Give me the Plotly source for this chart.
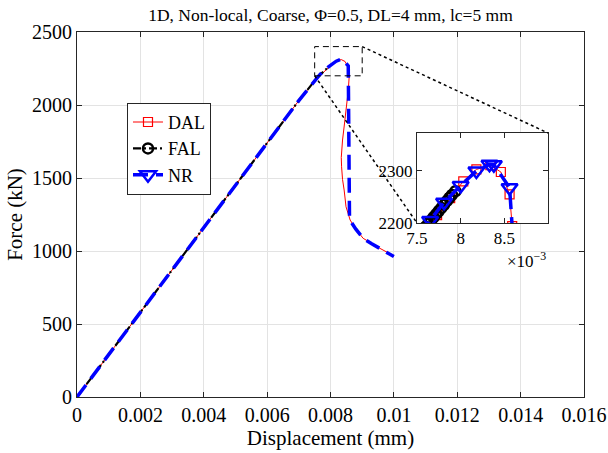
import plotly.graph_objects as go

# ---------------- data ----------------
dal_x = [0, 0.00700, 0.00758, 0.00773, 0.00788, 0.00803, 0.00818, 0.00834, 0.00846, 0.00856,
         0.00859, 0.00856, 0.00851, 0.00844, 0.00838, 0.00834, 0.00835, 0.00838, 0.00843,
         0.00849, 0.00862, 0.00880, 0.00903, 0.00930, 0.00956, 0.00980, 0.01000]
dal_y = [0, 2030, 2185, 2215, 2248, 2280, 2303, 2311, 2298, 2255,
         2194, 2100, 1990, 1870, 1760, 1640, 1577, 1490, 1418,
         1303, 1212, 1150, 1087, 1050, 1018, 990, 962]

fal_x = [0, 0.00700, 0.00760, 0.00763, 0.00766, 0.00769, 0.00772, 0.00775, 0.00778, 0.00781,
         0.00784, 0.00787, 0.00790, 0.00794]
fal_y = [0, 2030, 2193, 2199, 2205, 2211, 2217, 2223, 2229, 2235,
         2242, 2248, 2254, 2261]

nr_x = [0, 0.00700, 0.00765, 0.00781, 0.00800, 0.00818, 0.00833, 0.00838, 0.00856, 0.00860,
        0.00880, 0.00903, 0.00930, 0.00956, 0.00980, 0.01000]
nr_y = [0, 2030, 2205, 2240, 2272, 2300, 2313, 2312, 2268, 1215,
        1150, 1087, 1050, 1018, 990, 962]

x_ticks = [0, 0.002, 0.004, 0.006, 0.008, 0.010, 0.012, 0.014, 0.016]
x_ticklabels = ["0", "0.002", "0.004", "0.006", "0.008", "0.01", "0.012", "0.014", "0.016"]
y_ticks = [0, 500, 1000, 1500, 2000, 2500]
y_ticklabels = ["0", "500", "1000", "1500", "2000", "2500"]

ins_x_ticks = [0.0075, 0.0080, 0.0085]
ins_x_ticklabels = ["7.5", "8", "8.5"]
ins_y_ticks = [2200, 2300]
ins_y_ticklabels = ["2200", "2300"]

zoom_box_x = [0.0075, 0.0090]
zoom_box_y = [2200, 2400]

# ---------------- layout params ----------------
FONT = "Liberation Serif, Times New Roman, serif"
AX = "#262626"
GRID = "#e3e3e3"
main_xr = [0, 0.016]
main_yr = [0, 2500]
ins_xr = [0.0075, 0.0090]
ins_yr = [2200, 2373]
ins_xdom = [0.6706, 0.929]
ins_ydom = [0.4767, 0.7233]

fig = go.Figure()

# main traces (lines only)
fig.add_trace(go.Scatter(x=dal_x, y=dal_y, mode="lines", line=dict(color="red", width=1),
                         showlegend=False, hoverinfo="skip"))
fig.add_trace(go.Scatter(x=fal_x, y=fal_y, mode="lines",
                         line=dict(color="black", width=2.2, dash="8px,3px,2px,3px"),
                         showlegend=False, hoverinfo="skip"))
fig.add_trace(go.Scatter(x=nr_x, y=nr_y, mode="lines",
                         line=dict(color="blue", width=3.5, dash="15px,8px"),
                         showlegend=False, hoverinfo="skip"))

# inset traces (lines + markers), used for legend
fig.add_trace(go.Scatter(x=dal_x, y=dal_y, mode="lines+markers", name="DAL",
                         line=dict(color="red", width=1),
                         marker=dict(symbol="square-open", size=9, color="red", line=dict(width=1.2)),
                         xaxis="x2", yaxis="y2"))
fig.add_trace(go.Scatter(x=fal_x, y=fal_y, mode="lines+markers", name="FAL",
                         line=dict(color="black", width=2.2, dash="8px,3px,2px,3px"),
                         marker=dict(symbol="circle-open", size=10, color="black", line=dict(width=2.5)),
                         xaxis="x2", yaxis="y2"))
fig.add_trace(go.Scatter(x=nr_x, y=nr_y, mode="lines+markers", name="NR",
                         line=dict(color="blue", width=3.5, dash="15px,8px"),
                         marker=dict(symbol="triangle-down-open", size=14, color="blue", line=dict(width=2.5)),
                         xaxis="x2", yaxis="y2"))

# zoom rectangle
fig.add_shape(type="rect", xref="x", yref="y", x0=zoom_box_x[0], x1=zoom_box_x[1],
              y0=zoom_box_y[0], y1=zoom_box_y[1], line=dict(color="black", width=1, dash="6px,4px"))

# connectors to inset corners (computed in main data coordinates)
def dom_to_x(f):
    return main_xr[0] + f * (main_xr[1] - main_xr[0])

def dom_to_y(f):
    return main_yr[0] + f * (main_yr[1] - main_yr[0])

fig.add_shape(type="line", xref="x", yref="y", x0=zoom_box_x[1], y0=zoom_box_y[1],
              x1=dom_to_x(ins_xdom[1]), y1=dom_to_y(ins_ydom[1]),
              line=dict(color="black", width=1.5, dash="dot"))
fig.add_shape(type="line", xref="x", yref="y", x0=zoom_box_x[0], y0=zoom_box_y[0],
              x1=dom_to_x(ins_xdom[0]), y1=dom_to_y(ins_ydom[0]),
              line=dict(color="black", width=1.5, dash="dot"))

axis_common = dict(showline=True, linecolor=AX, linewidth=1, mirror="ticks", ticks="inside",
                   ticklen=5, tickcolor=AX, zeroline=False, automargin=False)

main_tickfont = dict(family=FONT, size=20, color="black")
ins_tickfont = dict(family=FONT, size=17, color="black")

fig.update_layout(
    width=608, height=453,
    margin=dict(l=77, r=24, t=32, b=56),
    paper_bgcolor="white", plot_bgcolor="white",
    font=dict(family=FONT, size=19, color="black"),
    title=dict(text="1D, Non-local, Coarse, Φ=0.5, DL=4 mm, lc=5 mm", x=0.5435, xanchor="center",
               y=0.967, yanchor="middle", font=dict(family=FONT, size=17.5, color="black")),
    xaxis=dict(range=main_xr, tickvals=x_ticks, ticktext=x_ticklabels, showgrid=True, gridcolor=GRID,
               tickfont=main_tickfont,
               title=dict(text="Displacement (mm)", standoff=2, font=dict(family=FONT, size=21, color="black")),
               **axis_common),
    yaxis=dict(range=main_yr, tickvals=y_ticks, ticktext=y_ticklabels, showgrid=True, gridcolor=GRID,
               tickfont=main_tickfont,
               title=dict(text="Force (kN)", standoff=3, font=dict(family=FONT, size=21, color="black")),
               **axis_common),
    xaxis2=dict(domain=ins_xdom, anchor="y2", range=ins_xr, tickvals=ins_x_ticks, ticktext=ins_x_ticklabels,
                showgrid=False, tickfont=ins_tickfont, **axis_common),
    yaxis2=dict(domain=ins_ydom, anchor="x2", range=ins_yr, tickvals=ins_y_ticks, ticktext=ins_y_ticklabels,
                showgrid=False, tickfont=ins_tickfont, **axis_common),
    legend=dict(x=0.0986, y=0.806, xanchor="left", yanchor="top", bgcolor="white",
                bordercolor=AX, borderwidth=1, font=dict(family=FONT, size=18, color="black"),
                tracegroupgap=0),
    showlegend=True,
)

fig.add_annotation(text="×10<sup>−3</sup>", xref="x2 domain", yref="y2 domain", x=1.0, y=-0.262,
                   xanchor="right", yanchor="top", showarrow=False,
                   font=dict(family=FONT, size=17, color="black"))

fig.write_html("out.html")
